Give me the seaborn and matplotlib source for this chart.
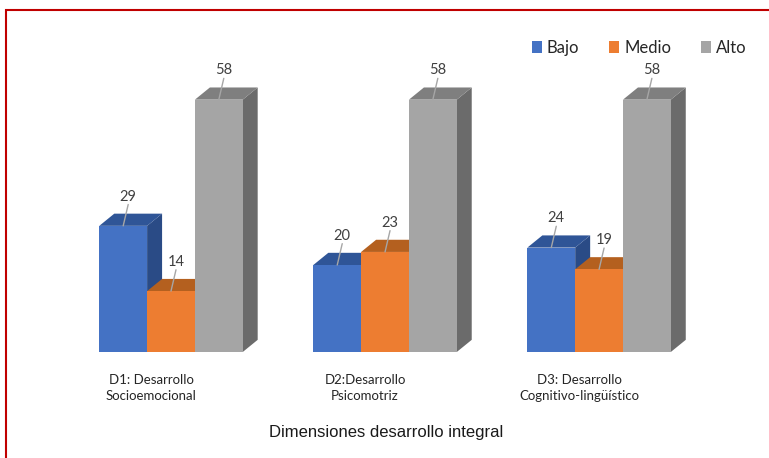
import matplotlib
matplotlib.use("Agg")
import matplotlib.pyplot as plt
import matplotlib.transforms as mtransforms
from matplotlib.patches import Polygon, Patch, Rectangle
import seaborn as sns
import pandas as pd

# data
dimensiones = ["D1: Desarrollo\nSocioemocional", "D2:Desarrollo\nPsicomotriz",
               "D3: Desarrollo\nCognitivo-lingüístico"]
niveles = ["Bajo", "Medio", "Alto"]
bajo = [29, 20, 24]
medio = [14, 23, 19]
alto = [58, 58, 58]

colores = {"Bajo": "#4472C4", "Medio": "#ED7D31", "Alto": "#A5A5A5"}
tapas = {"Bajo": "#2F5597", "Medio": "#B4601F", "Alto": "#7F7F7F"}
lados = {"Bajo": "#2A4B86", "Medio": "#A85A22", "Alto": "#6B6B6B"}

df = pd.DataFrame({
    "dim": dimensiones * 3,
    "nivel": [n for n in niveles for _ in dimensiones],
    "valor": bajo + medio + alto,
})

sns.set_style("white")
fig = plt.figure(figsize=(7.69, 4.58), dpi=100)
ax = fig.add_axes([0.0832, 0.2314, 0.835, 0.703])

sns.barplot(data=df, x="dim", y="valor", hue="nivel", hue_order=niveles,
            palette=colores, width=0.67, saturation=1, legend=False, ax=ax)

ax.set_xlim(-0.5, 2.5)
ax.set_ylim(0, 74)

# fake 3D depth: offset of the back face in data units
dx, dy = 0.07, 2.8

bars = []
for nivel, cont in zip(niveles, ax.containers):
    for p in cont.patches:
        bars.append((p.get_x(), nivel, p))
bars.sort(key=lambda b: b[0])

for k, (x0, nivel, p) in enumerate(bars):
    w = p.get_width()
    h = p.get_height()
    x1 = x0 + w
    z = 3 + 3 * k
    side = Polygon([(x1, 0), (x1 + dx, dy), (x1 + dx, h + dy), (x1, h)],
                   closed=True, facecolor=lados[nivel], edgecolor="none", zorder=z)
    top = Polygon([(x0, h), (x0 + dx, h + dy), (x1 + dx, h + dy), (x1, h)],
                  closed=True, facecolor=tapas[nivel], edgecolor="none", zorder=z + 1)
    ax.add_patch(side)
    ax.add_patch(top)
    p.set_zorder(z + 2)
    p.set_edgecolor("none")
    # label with leader line
    xc = x0 + w / 2
    ax.text(xc + dx / 3, h + dy + 2.3, f"{h:.0f}", ha="center", va="bottom",
            fontsize=10.5, family="Lato", color="#404040", zorder=200)
    ax.plot([xc + dx / 3, xc], [h + dy + 2.1, h], color="#A6A6A6", lw=1, zorder=200)

for s in ax.spines.values():
    s.set_visible(False)
ax.set_yticks([])
ax.set_ylabel("")
ax.tick_params(axis="x", length=0, pad=16, labelsize=9.5)
for lbl in ax.get_xticklabels():
    lbl.set_family("Lato")
    lbl.set_color("#262626")
    lbl.set_linespacing(1.35)
    lbl.set_transform(lbl.get_transform() +
                      mtransforms.ScaledTranslation(-0.2, 0, fig.dpi_scale_trans))
ax.set_xlabel("")

fig.text(386 / 769, 1 - 433 / 458, "Dimensiones desarrollo integral", ha="center",
         va="center", fontsize=12, family="Liberation Sans", color="#1a1a1a")

handles = [Patch(facecolor=colores[n], edgecolor="none", label=n) for n in niveles]
fig.legend(handles=handles, loc="upper right", bbox_to_anchor=(762 / 769, 1 - 25 / 458),
           ncol=3, frameon=False, handlelength=0.6, handleheight=0.75,
           handletextpad=0.3, columnspacing=1.8,
           prop={"family": "Lato", "size": 12})

# red frame around the chart (top and left edges visible)
fig.patches.append(Rectangle((6 / 769, -0.1), 1.1, 1.1 - 10 / 458, fill=False,
                             edgecolor="#C00000", lw=1.5, transform=fig.transFigure,
                             figure=fig))

fig.savefig("out.png", dpi=100)
